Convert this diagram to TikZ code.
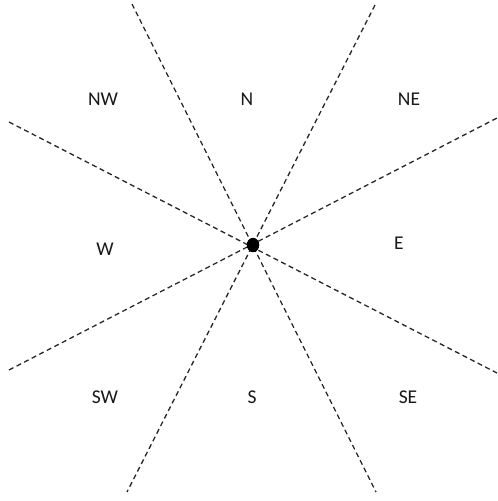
\documentclass[tikz,border=0pt]{standalone}
\usepackage{fontspec}
\setmainfont{Carlito}
\begin{document}
\begin{tikzpicture}[x=1pt,y=-1pt,
  ray/.style={draw=black!85, line width=1.3pt, dash pattern=on 5pt off 3.5pt},
  lbl/.style={font=\fontsize{19.5}{21}\selectfont, text=black!90, inner sep=0pt},
  hub/.style={circle, fill=black, minimum size=12.5pt, inner sep=0pt, yscale=1.15}]
\useasboundingbox[fill=white] (0,0) rectangle (498,501);
\coordinate (a1) at (132,4);
\coordinate (a2) at (376,492);
\coordinate (b1) at (375,5);
\coordinate (b2) at (127,492);
\coordinate (c1) at (9,122);
\coordinate (c2) at (497,373);
\coordinate (d1) at (9,370);
\coordinate (d2) at (497,118);
\draw[ray] (a1) -- (a2);
\draw[ray] (b1) -- (b2);
\draw[ray] (c1) -- (c2);
\draw[ray] (d1) -- (d2);
\node[hub] (hub) at (253,245) {};
\node[lbl] (nw) at (103,99) {NW};
\node[lbl] (n) at (247,99) {N};
\node[lbl] (ne) at (409,99) {NE};
\node[lbl] (w) at (105,249) {W};
\node[lbl] (e) at (399,243) {E};
\node[lbl] (sw) at (105,397) {SW};
\node[lbl] (s) at (252,397) {S};
\node[lbl] (se) at (408,397) {SE};
\end{tikzpicture}
\end{document}
